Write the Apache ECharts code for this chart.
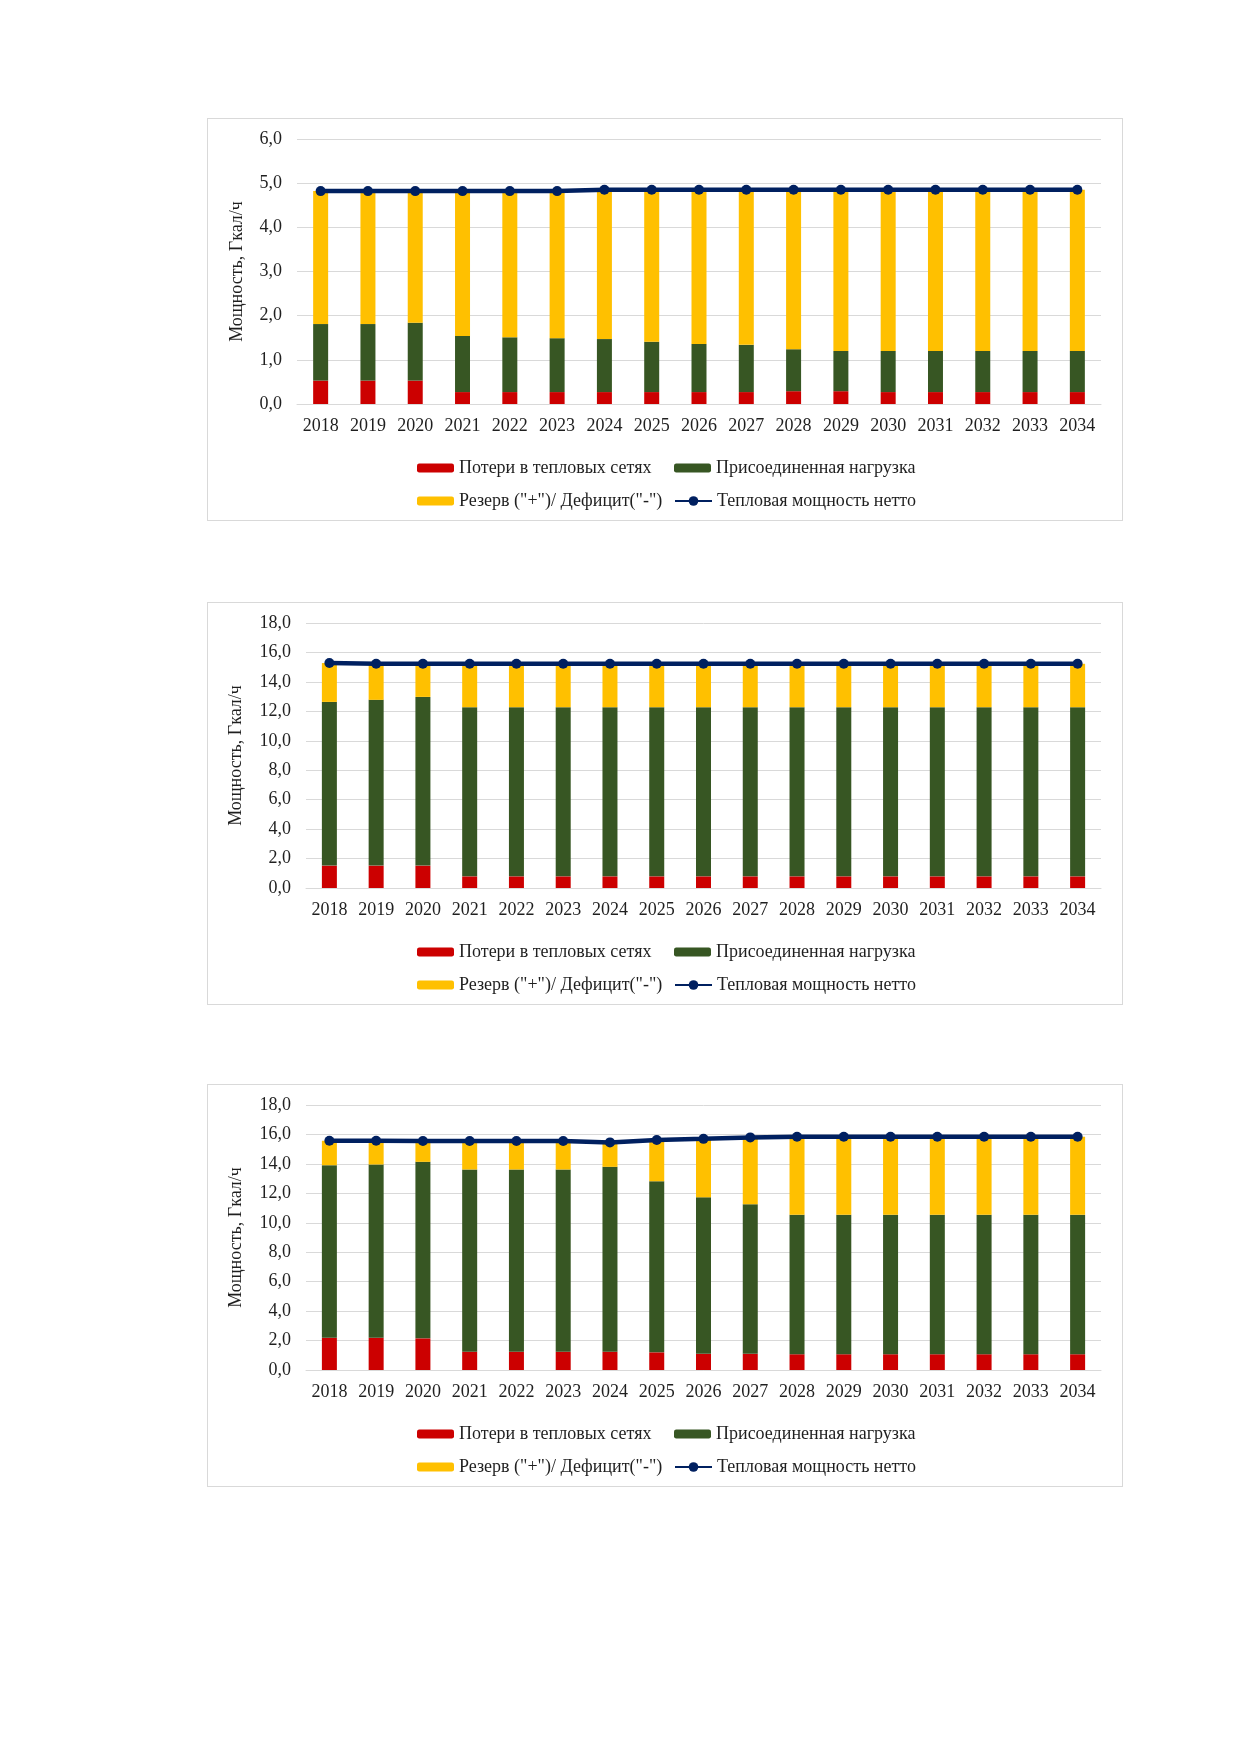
<!DOCTYPE html>
<html>
<head>
<meta charset="utf-8">
<script src="https://cdn.jsdelivr.net/npm/echarts@6/dist/echarts.min.js"></script>
<style>
  body { margin: 0; background: #fff; }
  .box { position: absolute; left: 207px; width: 914px; height: 401px; border: 1px solid #d9d9d9; }
</style>
</head>
<body>
<div id="c1" class="box" style="top:118px"></div>
<div id="c2" class="box" style="top:602px"></div>
<div id="c3" class="box" style="top:1084px"></div>
<script>
// годы
const years = ['2018', '2019', '2020', '2021', '2022', '2023', '2024', '2025', '2026',
  '2027', '2028', '2029', '2030', '2031', '2032', '2033', '2034'];

const seriesNames = ['Потери в тепловых сетях', 'Присоединенная нагрузка',
  'Резерв ("+")/ Дефицит("-")', 'Тепловая мощность нетто'];

// диаграмма 1
const losses1 = [0.53, 0.53, 0.53, 0.27, 0.27, 0.27, 0.27, 0.27, 0.27, 0.27, 0.29, 0.29, 0.27, 0.27, 0.27, 0.27, 0.27];
const load1 = [1.28, 1.28, 1.31, 1.27, 1.24, 1.22, 1.20, 1.14, 1.09, 1.07, 0.95, 0.91, 0.93, 0.93, 0.93, 0.93, 0.93];
const reserve1 = [3.01, 3.01, 2.98, 3.28, 3.31, 3.33, 3.38, 3.44, 3.49, 3.51, 3.61, 3.65, 3.65, 3.65, 3.65, 3.65, 3.65];
const net1 = [4.82, 4.82, 4.82, 4.82, 4.82, 4.82, 4.85, 4.85, 4.85, 4.85, 4.85, 4.85, 4.85, 4.85, 4.85, 4.85, 4.85];

// диаграмма 2
const losses2 = [1.52, 1.52, 1.52, 0.79, 0.79, 0.79, 0.79, 0.79, 0.79, 0.79, 0.79, 0.79, 0.79, 0.79, 0.79, 0.79, 0.79];
const load2 = [11.12, 11.26, 11.46, 11.49, 11.49, 11.49, 11.49, 11.49, 11.49, 11.49, 11.49, 11.49, 11.49, 11.49, 11.49, 11.49, 11.49];
const reserve2 = [2.64, 2.45, 2.25, 2.95, 2.95, 2.95, 2.95, 2.95, 2.95, 2.95, 2.95, 2.95, 2.95, 2.95, 2.95, 2.95, 2.95];
const net2 = [15.28, 15.23, 15.23, 15.23, 15.23, 15.23, 15.23, 15.23, 15.23, 15.23, 15.23, 15.23, 15.23, 15.23, 15.23, 15.23, 15.23];

// диаграмма 3
const losses3 = [2.19, 2.19, 2.15, 1.24, 1.24, 1.24, 1.24, 1.20, 1.10, 1.10, 1.07, 1.07, 1.07, 1.07, 1.07, 1.07, 1.07];
const load3 = [11.72, 11.77, 11.99, 12.38, 12.38, 12.38, 12.56, 11.62, 10.63, 10.16, 9.48, 9.48, 9.48, 9.48, 9.48, 9.48, 9.48];
const reserve3 = [1.66, 1.61, 1.41, 1.93, 1.93, 1.93, 1.66, 2.80, 3.97, 4.54, 5.29, 5.29, 5.29, 5.29, 5.29, 5.29, 5.29];
const net3 = [15.57, 15.57, 15.55, 15.55, 15.55, 15.55, 15.46, 15.62, 15.70, 15.80, 15.84, 15.84, 15.84, 15.84, 15.84, 15.84, 15.84];

const font = '"Liberation Serif", "Times New Roman", serif';
const textColor = '#1f1f1f';
const fontSize = 18;

function makeOption(losses, load, reserve, net, yMax, yStep, gridLeft, nameGap) {
  const legendText = { fontFamily: font, fontSize: fontSize, color: textColor };
  const legendPos = [[204, 335], [461, 335], [204, 368], [461, 368]];
  return {
    animation: false,
    textStyle: { fontFamily: font },
    grid: { left: gridLeft, top: 20, width: 893 - gridLeft, height: 265 },
    legend: seriesNames.map((n, i) => ({
      data: [n],
      left: legendPos[i][0],
      top: legendPos[i][1],
      itemWidth: 37,
      itemHeight: i === 3 ? 12 : 9,
      itemGap: 4,
      textStyle: legendText,
      selectedMode: false
    })),
    xAxis: {
      type: 'category',
      data: years,
      axisTick: { show: false },
      axisLine: { lineStyle: { color: '#d9d9d9' } },
      axisLabel: { fontFamily: font, fontSize: fontSize, color: textColor, margin: 13, interval: 0 }
    },
    yAxis: {
      type: 'value',
      min: 0,
      max: yMax,
      interval: yStep,
      name: 'Мощность, Гкал/ч',
      nameLocation: 'middle',
      nameGap: nameGap,
      nameTextStyle: { fontFamily: font, fontSize: fontSize, color: textColor },
      axisLine: { show: false },
      axisTick: { show: false },
      splitLine: { lineStyle: { color: '#d9d9d9', width: 1 } },
      axisLabel: {
        fontFamily: font, fontSize: fontSize, color: textColor, margin: 15,
        formatter: v => v.toFixed(1).replace('.', ',')
      }
    },
    series: [
      { name: seriesNames[0], type: 'bar', stack: 'a', barWidth: 15, data: losses, itemStyle: { color: '#cc0000' } },
      { name: seriesNames[1], type: 'bar', stack: 'a', barWidth: 15, data: load, itemStyle: { color: '#375623' } },
      { name: seriesNames[2], type: 'bar', stack: 'a', barWidth: 15, data: reserve, itemStyle: { color: '#ffc000' } },
      {
        name: seriesNames[3], type: 'line', data: net,
        symbol: 'circle', symbolSize: 10,
        lineStyle: { color: '#002060', width: 4.5 },
        itemStyle: { color: '#002060' },
        z: 5
      }
    ]
  };
}

echarts.init(document.getElementById('c1')).setOption(makeOption(losses1, load1, reserve1, net1, 6, 1, 89, 51));
echarts.init(document.getElementById('c2')).setOption(makeOption(losses2, load2, reserve2, net2, 18, 2, 98, 61));
echarts.init(document.getElementById('c3')).setOption(makeOption(losses3, load3, reserve3, net3, 18, 2, 98, 61));
</script>
</body>
</html>
